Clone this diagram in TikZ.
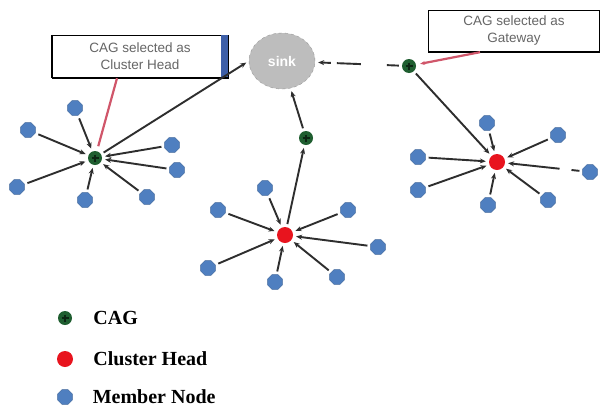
\documentclass[tikz,border=0pt]{standalone}
\usepackage{fontspec}
\setmainfont{Liberation Serif}
\setsansfont{Liberation Sans}
\usetikzlibrary{shapes.geometric, arrows.meta, positioning}
\definecolor{membblue}{HTML}{4F7FC0}
\definecolor{cagreen}{HTML}{1F5E30}
\definecolor{chred}{HTML}{E8141E}
\definecolor{sinkgrey}{HTML}{BDBDBD}
\definecolor{calloutred}{HTML}{D0566A}
\definecolor{barblue}{HTML}{3E5FA8}
\definecolor{linkgrey}{HTML}{2E2E2E}

\begin{document}
\begin{tikzpicture}[x=1pt, y=-1pt,
  member/.style={regular polygon, regular polygon sides=8, fill=membblue,
    draw=membblue!80!black, thin, minimum size=16pt, inner sep=0pt},
  cag/.style={circle, fill=cagreen, minimum size=14pt, inner sep=0pt,
    path picture={\draw[black!60!cagreen, line width=1.2pt]
      (path picture bounding box.center) ++(0,-3.5) -- ++(0,7)
      (path picture bounding box.center) ++(-3.5,0) -- ++(7,0);}},
  ch/.style={circle, fill=chred, minimum size=16pt, inner sep=0pt},
  sinknode/.style={ellipse, fill=sinkgrey, draw=gray!80, dashed,
    minimum width=66pt, minimum height=56pt, text=white,
    font=\sffamily\bfseries\fontsize{14}{14}\selectfont},
  callout/.style={draw=black, fill=white, align=center, text=black!60,
    inner sep=0pt, font=\sffamily\fontsize{13.5}{17}\selectfont},
  arrow/.style={-{Stealth[length=6pt, width=5pt]}, line width=1.9pt,
    draw=linkgrey, shorten >=3pt, shorten <=3pt},
  redlink/.style={draw=calloutred, line width=2.2pt},
  legtext/.style={font=\bfseries\fontsize{20}{20}\selectfont, inner sep=0pt}]

  \fill[white] (0,0) rectangle (601,407);
  \useasboundingbox (0,0) rectangle (601,407);

  % sink and callouts
  \node[sinknode] (sink) at (282,61) {sink};
  \node[callout, minimum width=176pt, minimum height=43pt] (chbox) at (140,56.5)
    {CAG selected as\\Cluster Head};
  \fill[barblue] ([xshift=-7pt]chbox.north east) rectangle (chbox.south east);
  \draw[line width=2.5pt] (chbox.south west) -- (chbox.south east);
  \draw[line width=1.8pt] (chbox.north west) -- (chbox.south west);
  \node[callout, minimum width=171pt, minimum height=42pt] (gwbox) at (514,31)
    {CAG selected as\\Gateway};
  \draw[line width=2.5pt] (gwbox.south west) -- (gwbox.south east);

  % left cluster (CAG as cluster head)
  \node[cag] (lcag) at (95,158) {};
  \foreach \p [count=\i] in {(75,108),(28,130),(172,145),(177,170),(17,187),(85,200),(147,197)} {
    \node[member] (lm\i) at \p {};
    \draw[arrow] (lm\i) -- (lcag);
  }
  \draw[arrow] (lcag) -- (sink.west);
  \draw[redlink, shorten >=5pt] ([xshift=-23pt]chbox.south) -- (lcag);

  % middle cluster
  \node[cag] (mcag) at (306,138) {};
  \node[ch] (mch) at (285,235) {};
  \foreach \p [count=\i] in {(265,188),(218,210),(348,210),(378,247),(208,268),(275,282),(337,277)} {
    \node[member] (mm\i) at \p {};
    \draw[arrow] (mm\i) -- (mch);
  }
  \draw[arrow] (mch) -- (mcag);
  \draw[arrow] (mcag) -- (sink);

  % right cluster with gateway
  \node[cag] (gcag) at (409,66) {};
  \node[ch] (rch) at (497,162) {};
  \foreach \p [count=\i] in {(487,123),(558,135),(418,157),(418,190),(488,205),(548,200)} {
    \node[member] (rm\i) at \p {};
    \draw[arrow] (rm\i) -- (rch);
  }
  \node[member] (rm7) at (590,172) {};
  \draw[arrow, dash pattern=on 8pt off 12pt on 60pt] (rm7) -- (rch);
  \draw[arrow] (gcag) -- (rch);
  \draw[arrow, dash pattern=on 12pt off 26pt on 24pt off 6pt on 40pt] (gcag) -- (sink);
  \draw[redlink, -{Stealth[length=5pt]}, shorten >=4pt] ([xshift=-34pt]gwbox.south) -- (gcag);

  % legend
  \node[cag] (legcag) at (65,318) {};
  \node[ch] (legch) at (65,359) {};
  \node[member] (legmem) at (65,397) {};
  \node[legtext, right=21pt of legcag] (tcag) {CAG};
  \node[legtext, right=20pt of legch] (tch) {Cluster Head};
  \node[legtext, right=20pt of legmem] (tmem) {Member Node};
\end{tikzpicture}
\end{document}
